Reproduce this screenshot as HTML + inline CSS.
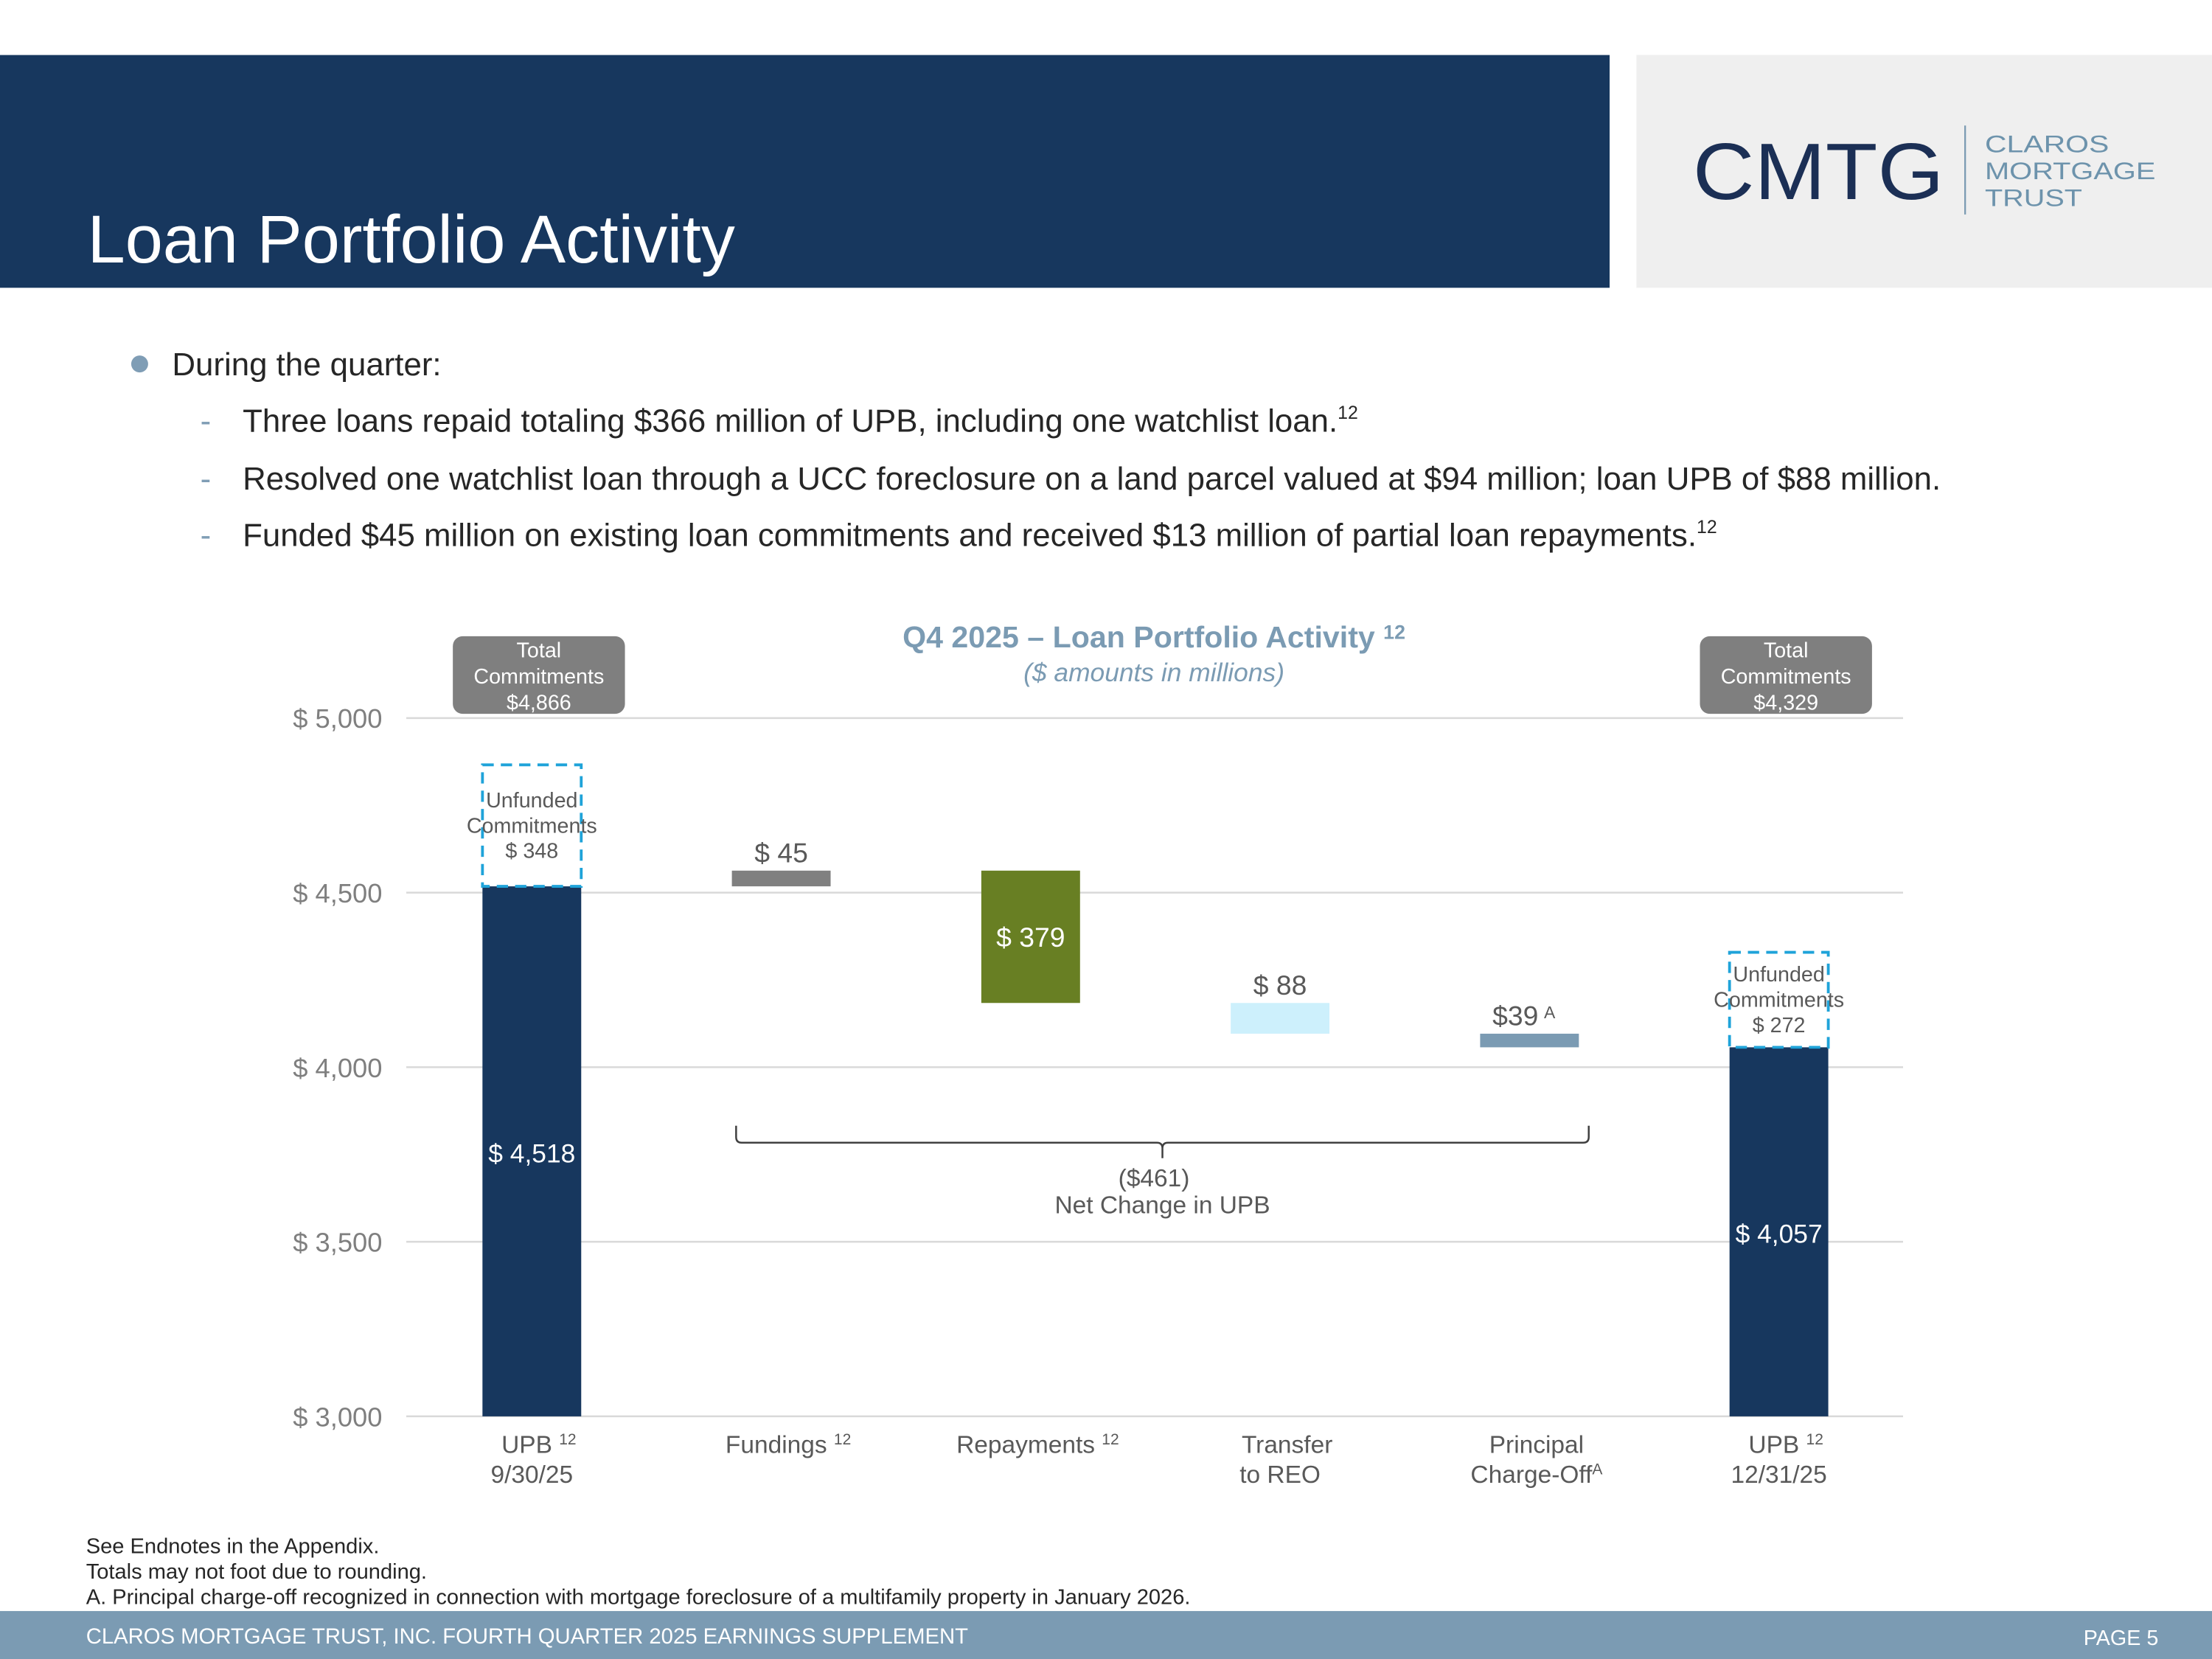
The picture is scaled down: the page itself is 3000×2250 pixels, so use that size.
<!DOCTYPE html>
<html><head><meta charset="utf-8">
<style>
html,body{margin:0;padding:0;background:#fff;}
svg{display:block;font-family:"Liberation Sans",Arial,sans-serif;}
</style></head>
<body>
<svg id="page" width="3000" height="2250" viewBox="0 0 1568 1176" xmlns="http://www.w3.org/2000/svg">
  <rect x="0" y="39" width="1141" height="165" fill="#17375e"/>
  <text x="62" y="186" font-size="48" fill="#fff" textLength="459" lengthAdjust="spacingAndGlyphs">Loan Portfolio Activity</text>
  <g>
    <rect x="1160" y="39" width="408" height="165" fill="#efefef"/>
    <text x="1200" y="141" font-size="57" fill="#1b2f55" textLength="178" lengthAdjust="spacingAndGlyphs">CMTG</text>
    <line x1="1393" y1="89" x2="1393" y2="152" stroke="#7b9bb3" stroke-width="1.2"/>
    <text x="1407" y="108" font-size="17" fill="#6d93ac" textLength="88" lengthAdjust="spacingAndGlyphs">CLAROS</text>
    <text x="1407" y="127" font-size="17" fill="#6d93ac" textLength="121" lengthAdjust="spacingAndGlyphs">MORTGAGE</text>
    <text x="1407" y="146" font-size="17" fill="#6d93ac" textLength="69" lengthAdjust="spacingAndGlyphs">TRUST</text>
  </g>
  <g font-size="22.9" fill="#262626">
    <circle cx="99" cy="258" r="6" fill="#7f9db5"/>
    <text x="122" y="266">During the quarter:</text>
    <text x="142" y="306" fill="#7f9db5">-</text>
    <text x="172" y="306">Three loans repaid totaling $366 million of UPB, including one watchlist loan.<tspan font-size="13" dy="-9">12</tspan></text>
    <text x="142" y="347" fill="#7f9db5">-</text>
    <text x="172" y="347">Resolved one watchlist loan through a UCC foreclosure on a land parcel valued at $94 million; loan UPB of $88 million.</text>
    <text x="142" y="387" fill="#7f9db5">-</text>
    <text x="172" y="387">Funded $45 million on existing loan commitments and received $13 million of partial loan repayments.<tspan font-size="13" dy="-9">12</tspan></text>
  </g>
  <g>
    <text x="818" y="459" font-size="21.5" font-weight="bold" fill="#7b9bb3" text-anchor="middle">Q4 2025 – Loan Portfolio Activity <tspan font-size="14" dy="-6">12</tspan></text>
    <text x="818" y="483" font-size="18.5" font-style="italic" fill="#7b9bb3" text-anchor="middle">($ amounts in millions)</text>
    <g id="grid"></g>
    <g id="marks"></g>
  </g>
  <g font-size="15.2" fill="#262626">
    <text x="61" y="1101">See Endnotes in the Appendix.</text>
    <text x="61" y="1119">Totals may not foot due to rounding.</text>
    <text x="61" y="1137">A. Principal charge-off recognized in connection with mortgage foreclosure of a multifamily property in January 2026.</text>
  </g>
  <rect x="0" y="1142" width="1568" height="34" fill="#7b9bb3"/>
  <text x="61" y="1165" font-size="15.3" fill="#fff">CLAROS MORTGAGE TRUST, INC. FOURTH QUARTER 2025 EARNINGS SUPPLEMENT</text>
  <text x="1530" y="1166" font-size="15" fill="#fff" text-anchor="end">PAGE 5</text>
</svg>
<script>
const categories = ["UPB|9/30/25", "Fundings", "Repayments", "Transfer|to REO", "Principal|Charge-Off"];
const catSup = ["12", "12", "12", "", "A"];
const startUPB = 4518;
const changes = [45, -379, -88, -39];
const changeLabels = ["$ 45", "$ 379", "$ 88", "$39"];
const endUPB = 4057;
const unfunded = [348, 272];
const totalCommit = ["$4,866", "$4,329"];
const yTicks = [3000, 3500, 4000, 4500, 5000];
const yTickLabels = ["$ 3,000", "$ 3,500", "$ 4,000", "$ 4,500", "$ 5,000"];
const netChange = "($461)";

const NS = "http://www.w3.org/2000/svg";
const x0 = 288, x1 = 1349, yMin = 3000, yMax = 5000, yBot = 1004, yTop = 509;
const y = v => yBot - (v - yMin) / (yMax - yMin) * (yBot - yTop);
const cx = i => 377 + i * 176.8;
const bw = 70;
function mk(tag, attrs, parent, txt) {
  const e = document.createElementNS(NS, tag);
  for (const k in attrs) e.setAttribute(k, attrs[k]);
  if (txt !== undefined) e.textContent = txt;
  parent.appendChild(e);
  return e;
}
const grid = document.getElementById('grid');
const marks = document.getElementById('marks');
yTicks.forEach((t, i) => {
  const l = mk('line', {x1: x0, x2: x1, y1: y(t), y2: y(t), stroke: '#d9d9d9', 'stroke-width': 1.3}, grid);
  
  
  const tx = mk('text', {x: 271, y: y(t) + 7, 'font-size': 19, fill: '#7f7f7f', 'text-anchor': 'end'}, grid, yTickLabels[i]);
  
  
});
const allCats = categories.concat(["UPB|12/31/25"]);
const allSup = catSup.concat(["12"]);
allCats.forEach((c, i) => {
  const parts = c.split('|');
  const supOnSecond = (i === 4);
  const t = mk('text', {x: cx(i) + 5, y: 1030, 'font-size': 17.5, fill: '#595959', 'text-anchor': 'middle'}, grid);
  
  
  mk('tspan', {}, t, parts[0] + ' ');
  if (allSup[i] && !supOnSecond) mk('tspan', {'font-size': 11, dy: -6}, t, allSup[i]);
  if (parts[1]) {
    const t2 = mk('text', {x: cx(i) + (supOnSecond ? 5 : 0), y: 1051, 'font-size': 17.5, fill: '#595959', 'text-anchor': 'middle'}, grid);
    
    
    mk('tspan', {}, t2, parts[1]);
    if (supOnSecond) mk('tspan', {'font-size': 11, dy: -6}, t2, allSup[i]);
  }
});
function upbBar(i, v, unf, tot, labelY) {
  const r = mk('rect', {x: cx(i) - bw/2, y: y(v), width: bw, height: yBot - y(v), fill: '#17375e'}, marks);
  
  
  const t = mk('text', {x: cx(i), y: labelY, 'font-size': 18.5, fill: '#fff', 'text-anchor': 'middle'}, marks, '$ ' + v.toLocaleString('en-US'));
  
  
  const d = mk('rect', {x: cx(i) - bw/2, y: y(v + unf), width: bw, height: y(v) - y(v + unf), fill: 'none', stroke: '#1fa3d9', 'stroke-width': 2, 'stroke-dasharray': '8,5'}, marks);
  
  
  const my = (y(v) + y(v + unf)) / 2;
  ['Unfunded', 'Commitments', '$ ' + unf].forEach((s, k) => {
    const tt = mk('text', {x: cx(i), y: my - 13 + k * 18, 'font-size': 15, fill: '#595959', 'text-anchor': 'middle'}, marks, s);
    
    
  });
  const g = mk('rect', {x: cx(i) - 56, y: 451, width: 122, height: 55, rx: 7, fill: '#7f7f7f'}, marks);
  
  
  ['Total', 'Commitments', tot].forEach((s, k) => {
    const tt = mk('text', {x: cx(i) + 5, y: 466 + k * 18.5, 'font-size': 15, fill: '#fff', 'text-anchor': 'middle'}, marks, s);
    
    
  });
}
upbBar(0, startUPB, unfunded[0], totalCommit[0], 824);
upbBar(5, endUPB, unfunded[1], totalCommit[1], 881);
const colors = ['#808080', '#687f23', '#cdf0fc', '#7b9bb3'];
let cur = startUPB;
changes.forEach((c, k) => {
  const i = k + 1;
  const a = cur, b = cur + c;
  const top = Math.max(a, b), bot = Math.min(a, b);
  const r = mk('rect', {x: cx(i) - bw/2, y: y(top), width: bw, height: y(bot) - y(top), fill: colors[k]}, marks);
  
  
  const inside = (y(bot) - y(top)) > 40;
  const t = mk('text', {x: cx(i) - (k === 3 ? 4 : 0), y: inside ? (y(top) + y(bot)) / 2 + 7 : y(top) - 6, 'font-size': 19.5, fill: inside ? '#fff' : '#595959', 'text-anchor': 'middle'}, marks);
  
  
  mk('tspan', {}, t, changeLabels[k]);
  if (k === 3) mk('tspan', {'font-size': 12, dy: -5, dx: 4}, t, 'A');
  cur = b;
});
const bx0 = cx(1) - 32, bx1 = cx(4) + 42, by = 798, bm = (bx0 + bx1) / 2;
const br = mk('path', {d: `M${bx0},${by} v8 q0,4 4,4 H${bm - 4} q4,0 4,4 v7 M${bm},${by + 16} q0,-4 4,-4 H${bx1 - 4} q4,0 4,-4 v-8`, fill: 'none', stroke: '#404040', 'stroke-width': 1.3}, marks);


const n1 = mk('text', {x: 818, y: 841, 'font-size': 17.5, fill: '#595959', 'text-anchor': 'middle'}, marks, netChange);


const n2 = mk('text', {x: 824, y: 860, 'font-size': 17.5, fill: '#595959', 'text-anchor': 'middle'}, marks, 'Net Change in UPB');


</script>
</body></html>
